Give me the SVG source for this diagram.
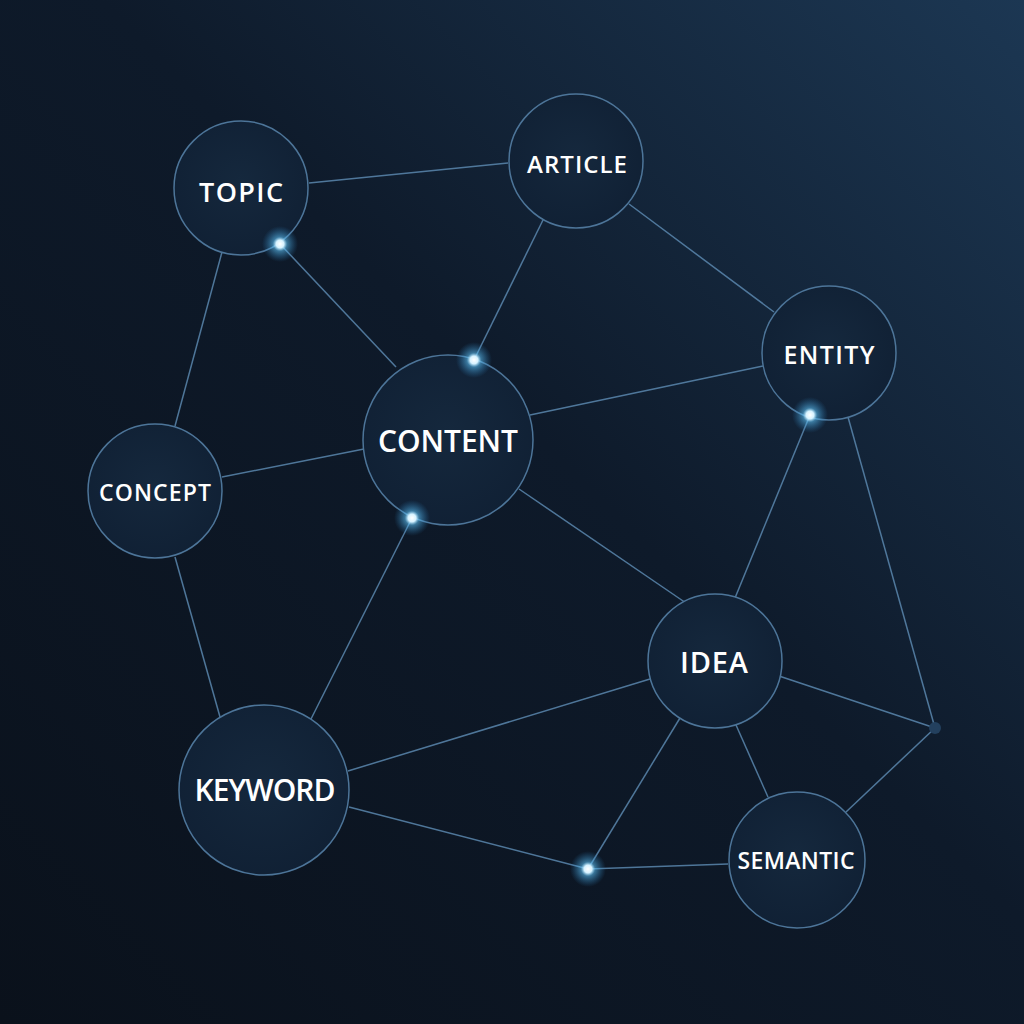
<svg xmlns="http://www.w3.org/2000/svg" width="1024" height="1024" viewBox="0 0 1024 1024">
<defs>
<linearGradient id="bg" x1="0" y1="1" x2="1" y2="0">
<stop offset="0" stop-color="#0a111b"/>
<stop offset="0.55" stop-color="#0e1a2a"/>
<stop offset="1" stop-color="#1c3753"/>
</linearGradient>
<radialGradient id="nodeFill" cx="0.5" cy="0.45" r="0.6">
<stop offset="0" stop-color="#15283d"/>
<stop offset="1" stop-color="#102034"/>
</radialGradient>
<radialGradient id="glow">
<stop offset="0" stop-color="#ffffff" stop-opacity="1"/>
<stop offset="0.22" stop-color="#d6f2ff" stop-opacity="1"/>
<stop offset="0.4" stop-color="#5cc0f5" stop-opacity="0.55"/>
<stop offset="1" stop-color="#2a86c8" stop-opacity="0"/>
</radialGradient>
</defs>
<style>
.node circle{fill:url(#nodeFill);stroke:#4d7599;stroke-width:1.5}
.node text{fill:#ffffff;font-family:"Open Sans","Noto Sans","Liberation Sans",sans-serif;text-anchor:middle;font-weight:600}
#edges line{stroke:#5a87ae;stroke-width:1.5;stroke-opacity:0.85}
.dot{fill:url(#glow)}
</style>
<rect width="1024" height="1024" fill="url(#bg)"/>
<g id="edges">
<line x1="309" y1="183" x2="508" y2="163"/>
<line x1="280" y1="244" x2="396" y2="367"/>
<line x1="222" y1="252" x2="175" y2="426"/>
<line x1="543" y1="220" x2="474" y2="360"/>
<line x1="629" y1="204" x2="774" y2="312"/>
<line x1="530" y1="415" x2="763" y2="366"/>
<line x1="222" y1="477" x2="364" y2="449"/>
<line x1="519" y1="489" x2="686" y2="603"/>
<line x1="810" y1="415" x2="735" y2="598"/>
<line x1="848" y1="417" x2="935" y2="728"/>
<line x1="175" y1="557" x2="220" y2="717"/>
<line x1="412" y1="518" x2="311" y2="719"/>
<line x1="348" y1="771" x2="650" y2="679"/>
<line x1="349" y1="807" x2="588" y2="869"/>
<line x1="680" y1="718" x2="588" y2="869"/>
<line x1="736" y1="725" x2="768" y2="797"/>
<line x1="779" y1="676" x2="935" y2="728"/>
<line x1="588" y1="869" x2="728" y2="864"/>
<line x1="846" y1="812" x2="935" y2="728"/>
</g>
<g id="node-topic" class="node"><circle cx="241" cy="188" r="67"/><text x="241" y="202" font-size="27" textLength="84">TOPIC</text></g>
<g id="node-article" class="node"><circle cx="576" cy="161" r="67"/><text x="577" y="173" font-size="24" textLength="100">ARTICLE</text></g>
<g id="node-content" class="node"><circle cx="448" cy="440" r="85"/><text x="448" y="452" font-size="30" textLength="140">CONTENT</text></g>
<g id="node-concept" class="node"><circle cx="155" cy="491" r="67"/><text x="155" y="501" font-size="23" textLength="112">CONCEPT</text></g>
<g id="node-entity" class="node"><circle cx="829" cy="353" r="67"/><text x="829" y="364" font-size="25" textLength="91">ENTITY</text></g>
<g id="node-idea" class="node"><circle cx="715" cy="661" r="67"/><text x="714" y="673" font-size="29" textLength="68">IDEA</text></g>
<g id="node-keyword" class="node"><circle cx="264" cy="790" r="85"/><text x="265" y="801" font-size="30" textLength="141">KEYWORD</text></g>
<g id="node-semantic" class="node"><circle cx="797" cy="860" r="68"/><text x="796" y="869" font-size="23" textLength="117">SEMANTIC</text></g>
<g id="node-junction"><circle cx="935" cy="728" r="6" fill="#23405e"/></g>
<g id="glows">
<circle class="dot" cx="280" cy="244" r="18"/>
<circle class="dot" cx="474" cy="360" r="18"/>
<circle class="dot" cx="810" cy="415" r="18"/>
<circle class="dot" cx="412" cy="518" r="18"/>
<circle class="dot" cx="588" cy="869" r="18"/>
</g>
</svg>
